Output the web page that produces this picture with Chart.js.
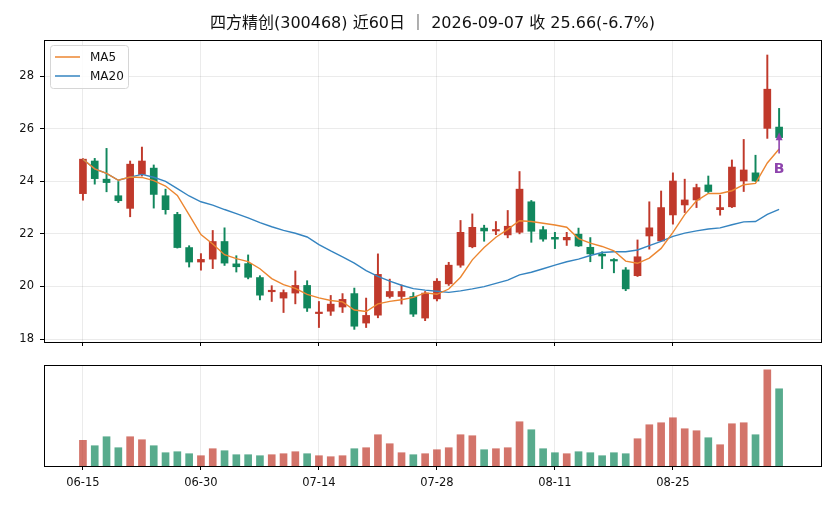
<!DOCTYPE html>
<html>
<head>
<meta charset="utf-8">
<script src="https://cdn.jsdelivr.net/npm/chart.js@4.4.1/dist/chart.umd.min.js"></script>
<style>
  body { margin: 0; background: #fff; }
  #wrap { width: 836px; height: 506px; position: relative; }
  canvas { display: block; }
</style>
</head>
<body>
<div id="wrap">
  <canvas id="priceChart" width="836" height="352"></canvas>
  <canvas id="volChart" width="836" height="154"></canvas>
</div>
<script>
// trading days (06-19 is a holiday)
const dates = ['06-15','06-16','06-17','06-18','06-22','06-23','06-24','06-25','06-26','06-29',
  '06-30','07-01','07-02','07-03','07-06','07-07','07-08','07-09','07-10','07-13',
  '07-14','07-15','07-16','07-17','07-20','07-21','07-22','07-23','07-24','07-27',
  '07-28','07-29','07-30','07-31','08-03','08-04','08-05','08-06','08-07','08-10',
  '08-11','08-12','08-13','08-14','08-17','08-18','08-19','08-20','08-21','08-24',
  '08-25','08-26','08-27','08-28','08-31','09-01','09-02','09-03','09-04','09-07'];

const open = [23.53,24.77,24.08,23.45,22.97,24.26,24.50,23.45,22.74,21.48,
  20.93,21.04,21.71,20.86,20.87,20.34,19.80,19.56,19.75,20.04,
  18.97,19.06,19.22,19.73,18.61,18.91,19.62,19.62,19.62,18.80,
  19.53,20.10,20.81,21.51,22.22,22.11,21.96,22.06,23.22,22.16,
  21.87,21.77,21.99,21.49,21.23,21.00,20.63,20.41,21.92,21.73,
  22.72,23.10,23.29,23.86,22.92,23.03,24.01,24.32,26.01,26.06];
const high = [24.86,24.87,25.25,23.99,24.77,25.30,24.62,23.70,22.82,21.55,
  21.25,22.13,22.23,21.17,21.20,20.41,20.03,19.87,20.59,20.22,
  19.43,19.66,19.73,19.94,19.56,21.24,20.28,20.06,19.77,19.81,
  20.30,20.92,22.51,22.76,22.33,22.47,22.89,24.37,23.27,22.28,
  22.06,22.06,22.22,21.86,21.32,21.06,20.72,21.77,23.22,23.63,
  24.32,24.08,23.89,24.20,23.47,24.81,25.59,24.99,28.80,26.77];
const low = [23.28,23.89,23.60,23.19,22.65,24.20,22.98,22.75,21.46,20.74,
  20.62,20.68,20.80,20.55,20.29,19.49,19.43,19.01,19.34,19.05,
  18.44,18.90,19.01,18.37,18.44,18.81,19.56,19.33,18.86,18.70,
  19.45,20.04,20.73,21.47,21.72,21.97,21.85,22.00,21.68,21.72,
  21.44,21.56,21.52,20.94,20.68,20.52,19.84,20.38,21.42,21.73,
  22.37,22.81,23.00,23.57,22.71,23.00,23.61,23.99,25.63,25.63];
const close = [24.84,24.10,23.95,23.26,24.65,24.77,23.50,22.92,21.48,20.93,
  21.03,21.71,20.89,20.75,20.35,19.67,19.83,19.77,20.04,19.18,
  19.01,19.33,19.51,18.49,18.90,20.46,19.81,19.81,18.95,19.75,
  20.20,20.81,22.06,22.25,22.11,22.14,22.29,23.70,22.10,21.80,
  21.80,21.87,21.54,21.24,21.16,20.97,19.91,21.13,22.23,23.00,
  24.01,23.29,23.76,23.61,23.00,24.54,24.43,24.01,27.50,25.66];
// volume, 万手
const volume = [25.7,20.3,29.3,18.3,29.3,26.3,20.3,13.3,14.3,12.3,
  10.3,17.3,15.3,11.3,11.3,10.3,11.3,12.3,14.3,12.3,
  10.3,9.3,10.3,17.3,18.3,31.3,22.3,13.3,11.3,12.3,
  16.3,18.3,31.3,30.3,16.3,17.3,18.3,44.3,36.3,17.3,
  13.3,12.3,14.3,13.3,10.3,13.3,12.3,27.3,41.3,43.3,
  48.3,37.3,35.3,28.3,21.3,42.3,43.3,31.3,96.3,77.3];

const priceTicks = [18, 20, 22, 24, 26, 28];
const dateTicks = [0, 10, 20, 30, 40, 50];
const titleText = '四方精创(300468) 近60日 ｜ 2026-09-07 收 25.66(-6.7%)';

const UP = '#c0392b', DOWN = '#11875d';
const UP_V = 'rgba(192,57,43,0.7)', DOWN_V = 'rgba(17,135,93,0.7)';
const FONT = '"DejaVu Sans", "Noto Sans CJK SC", sans-serif';

// moving averages (shorter window at the start)
function movingAvg(arr, n) {
  return arr.map((v, i) => {
    const s = arr.slice(Math.max(0, i - n + 1), i + 1);
    return s.reduce((a, b) => a + b, 0) / s.length;
  });
}
const ma5 = movingAvg(close, 5);
const ma20 = movingAvg(close, 20);

const isUp = close.map((c, i) => c >= open[i]);
const candleColors = isUp.map(u => u ? UP : DOWN);
const volColors = isUp.map(u => u ? UP_V : DOWN_V);

const xMin = -3.3, xMax = 62.55;
const gridColor = 'rgba(0,0,0,0.08)';

// black frame around the plot area
const framePlugin = {
  id: 'frame',
  afterDraw(chart) {
    const { ctx, chartArea: a } = chart;
    ctx.save();
    ctx.strokeStyle = '#000';
    ctx.lineWidth = 1;
    ctx.strokeRect(Math.round(a.left) + 0.5, Math.round(a.top) + 0.5,
      Math.round(a.right - a.left), Math.round(a.bottom - a.top));
    ctx.restore();
  }
};

// title, legend box and the B marker
const pricePlugin = {
  id: 'priceExtras',
  afterDraw(chart) {
    const { ctx, chartArea: a, scales } = chart;
    ctx.save();
    ctx.fillStyle = '#111';
    ctx.font = '16px ' + FONT;
    ctx.textAlign = 'center';
    ctx.textBaseline = 'middle';
    ctx.fillText(titleText, (a.left + a.right) / 2, 24);

    const lx = 50.5, ly = 45.5, lw = 78, lh = 43;
    ctx.beginPath();
    ctx.roundRect(lx, ly, lw, lh, 3);
    ctx.fillStyle = 'rgba(255,255,255,0.85)';
    ctx.fill();
    ctx.strokeStyle = '#d6d6d6';
    ctx.lineWidth = 1;
    ctx.stroke();
    const items = [['MA5', '#ec8630', 57], ['MA20', '#3584c0', 76]];
    ctx.font = '12px ' + FONT;
    ctx.textAlign = 'left';
    items.forEach(([label, color, y]) => {
      ctx.strokeStyle = color;
      ctx.lineWidth = 1.5;
      ctx.beginPath();
      ctx.moveTo(55, y);
      ctx.lineTo(80, y);
      ctx.stroke();
      ctx.fillStyle = '#111';
      ctx.fillText(label, 90, y + 0.5);
    });

    const last = close.length - 1;
    const px = scales.x.getPixelForValue(last);
    const tipY = scales.y.getPixelForValue(low[last] + 0.23);
    const tailY = scales.y.getPixelForValue(low[last] - 0.57);
    const textY = scales.y.getPixelForValue(low[last] - 1.18);
    ctx.strokeStyle = '#8e44ad';
    ctx.fillStyle = '#8e44ad';
    ctx.lineWidth = 1.6;
    ctx.beginPath();
    ctx.moveTo(px, tailY);
    ctx.lineTo(px, tipY + 6);
    ctx.stroke();
    ctx.beginPath();
    ctx.moveTo(px, tipY);
    ctx.lineTo(px - 3.5, tipY + 8);
    ctx.lineTo(px + 3.5, tipY + 8);
    ctx.closePath();
    ctx.fill();
    ctx.font = 'bold 14px ' + FONT;
    ctx.textAlign = 'center';
    ctx.textBaseline = 'middle';
    ctx.fillText('B', px, textY);
    ctx.restore();
  }
};

const idx = dates.map((d, i) => i);

new Chart(document.getElementById('priceChart'), {
  type: 'bar',
  data: {
    datasets: [
      {
        type: 'line',
        label: 'MA5',
        data: idx.map(i => ({ x: i, y: ma5[i] })),
        borderColor: '#ec8630',
        borderWidth: 1.4,
        pointRadius: 0,
        tension: 0,
        order: 0
      },
      {
        type: 'line',
        label: 'MA20',
        data: idx.map(i => ({ x: i, y: ma20[i] })),
        borderColor: '#3584c0',
        borderWidth: 1.4,
        pointRadius: 0,
        tension: 0,
        order: 0
      },
      {
        label: 'body',
        data: idx.map(i => ({ x: i, y: [open[i], close[i]] })),
        backgroundColor: candleColors,
        barThickness: 7,
        minBarLength: 1.5,
        grouped: false,
        order: 1
      },
      {
        label: 'wick',
        data: idx.map(i => ({ x: i, y: [low[i], high[i]] })),
        backgroundColor: candleColors,
        barThickness: 1.3,
        grouped: false,
        order: 2
      }
    ]
  },
  options: {
    responsive: false,
    animation: false,
    layout: { padding: { left: 0, right: 15, top: 40, bottom: 0 } },
    plugins: { legend: { display: false }, tooltip: { enabled: false }, title: { display: false } },
    scales: {
      x: {
        type: 'linear',
        min: xMin,
        max: xMax,
        offset: false,
        afterBuildTicks: s => { s.ticks = dateTicks.map(v => ({ value: v })); },
        afterFit: s => { s.height = 10; s.paddingLeft = 0; s.paddingRight = 0; },
        ticks: { display: false },
        grid: { offset: false, color: gridColor, tickColor: '#000', tickLength: 4 },
        border: { display: false }
      },
      y: {
        min: 17.89,
        max: 29.37,
        afterBuildTicks: s => { s.ticks = priceTicks.map(v => ({ value: v })); },
        afterFit: s => { s.width = 44; s.paddingTop = 0; s.paddingBottom = 0; },
        ticks: { color: '#111', font: { family: FONT, size: 11.5 }, padding: 6 },
        grid: { color: gridColor, tickColor: '#000', tickLength: 4 },
        border: { display: false }
      }
    }
  },
  plugins: [framePlugin, pricePlugin]
});

new Chart(document.getElementById('volChart'), {
  type: 'bar',
  data: {
    datasets: [{
      label: 'volume',
      data: idx.map(i => ({ x: i, y: volume[i] })),
      backgroundColor: volColors,
      barThickness: 7
    }]
  },
  options: {
    responsive: false,
    animation: false,
    layout: { padding: { left: 44, right: 15, top: 13, bottom: 0 } },
    plugins: { legend: { display: false }, tooltip: { enabled: false } },
    scales: {
      x: {
        type: 'linear',
        min: xMin,
        max: xMax,
        offset: false,
        afterBuildTicks: s => { s.ticks = dateTicks.map(v => ({ value: v })); },
        afterFit: s => { s.height = 40; s.paddingLeft = 0; s.paddingRight = 0; },
        ticks: {
          color: '#111',
          font: { family: FONT, size: 11.5 },
          padding: 6,
          maxRotation: 0,
          callback: v => dates[v]
        },
        grid: { offset: false, color: gridColor, tickColor: '#000', tickLength: 4 },
        border: { display: false }
      },
      y: {
        display: false,
        min: 0,
        max: Math.max(...volume) * 1.05
      }
    }
  },
  plugins: [framePlugin]
});
</script>
</body>
</html>
